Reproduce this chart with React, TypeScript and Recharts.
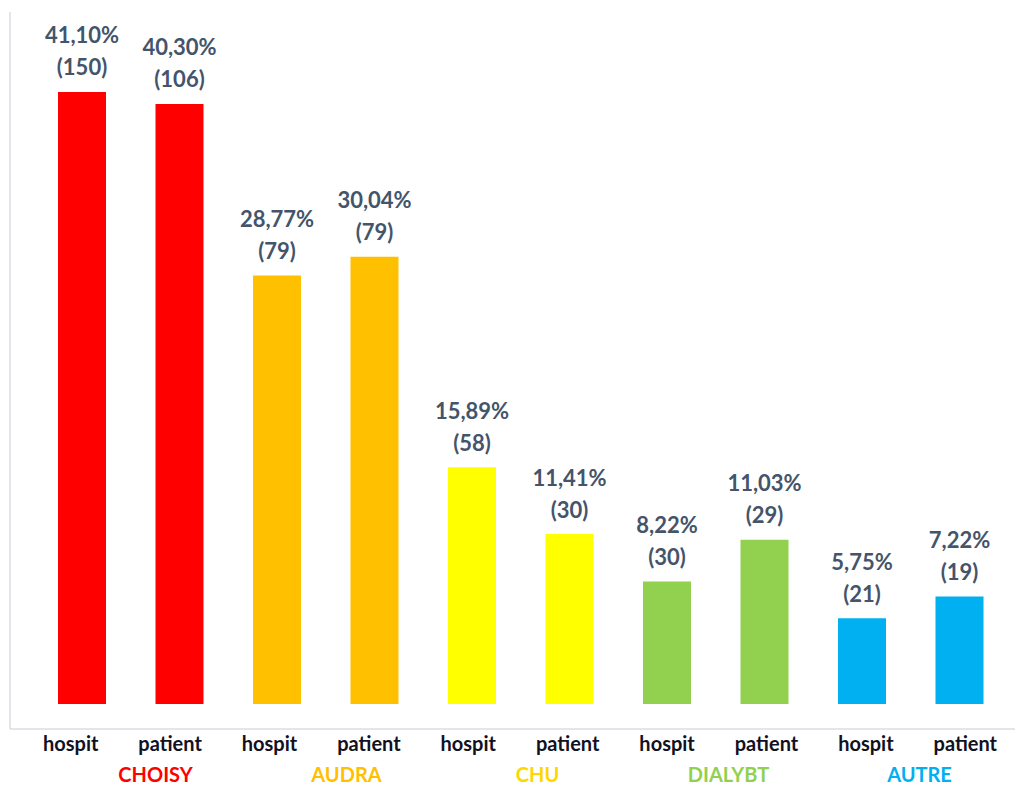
import React from "react"
import { BarChart, Bar, XAxis, YAxis, Cell, LabelList } from "recharts"

const categories = ["hospit", "patient", "hospit", "patient", "hospit", "patient", "hospit", "patient", "hospit", "patient"]
const groups = ["CHOISY", "AUDRA", "CHU", "DIALYBT", "AUTRE"]
const groupColors = ["#FF0000", "#FFC000", "#FFFF00", "#92D050", "#00B0F0"]
const groupLabelColors = ["#FF0000", "#FFC000", "#FFD700", "#92D050", "#00B0F0"]
const percents = [41.1, 40.3, 28.77, 30.04, 15.89, 11.41, 8.22, 11.03, 5.75, 7.22]
const counts = [150, 106, 79, 79, 58, 30, 30, 29, 21, 19]

const data = categories.map((name, i) => ({
  key: `${name}-${i}`,
  name,
  value: percents[i],
  count: counts[i],
  group: Math.floor(i / 2),
}))

const groupTicks = groups.map((_, g) => g + 0.5)

const FONT = "Lato, 'Open Sans', sans-serif"
const LABEL_COLOR = "#44546A"
const AXIS_COLOR = "#D9DDE3"

const fmtPct = (v: number) => v.toFixed(2).replace(".", ",") + "%"

function BarLabel(props: any) {
  const { x, y, width, index } = props
  const cx = x + width / 2
  return (
    <g fontFamily={FONT} fontWeight={700} fontSize={22} fill={LABEL_COLOR} textAnchor="middle">
      <text x={cx} y={y - 57} dominantBaseline="central">{fmtPct(percents[index])}</text>
      <text x={cx} y={y - 25} dominantBaseline="central">({counts[index]})</text>
    </g>
  )
}

function CatTick(props: any) {
  const { x, y, payload, index } = props
  const i = payload?.index ?? index
  return (
    <text x={x} y={y + 5} textAnchor="middle" dominantBaseline="central"
      fontFamily={FONT} fontWeight={700} fontSize={20} fill="#111122">
      {categories[i]}
    </text>
  )
}

function GroupTick(props: any) {
  const { x, y, payload } = props
  const g = Math.floor(payload.value)
  return (
    <text x={x} y={y + 6} textAnchor="middle" dominantBaseline="central"
      fontFamily={FONT} fontWeight={700} fontSize={20} fill={groupLabelColors[g]}>
      {groups[g]}
    </text>
  )
}

export default function App() {
  return (
    <div style={{ position: "absolute", left: 0, top: 0, background: "#fff" }}>
      <BarChart width={1015} height={785} data={data} margin={{ top: 12, right: 0, left: 9, bottom: 0 }}>
        <XAxis
          xAxisId="a_bars"
          dataKey="key"
          height={1}
          tick={false}
          tickLine={false}
          axisLine={{ stroke: AXIS_COLOR, strokeWidth: 1.5 }}
          padding={{ left: 23, right: 7 }}
        />
        <XAxis
          xAxisId="b_labels"
          dataKey="key"
          height={30}
          tickLine={false}
          axisLine={false}
          padding={{ left: 11, right: 0 }}
          interval={0}
          tick={<CatTick />}
        />
        <XAxis
          xAxisId="c_groups"
          dataKey="group"
          type="number"
          domain={[0, groups.length]}
          allowDataOverflow
          ticks={groupTicks}
          allowDecimals
          height={25}
          tickLine={false}
          axisLine={false}
          padding={{ left: 50, right: 0 }}
          interval={0}
          tick={<GroupTick />}
        />
        <YAxis
          width={1}
          domain={[-1.68, 46.47]}
          allowDataOverflow
          tick={false}
          tickLine={false}
          axisLine={{ stroke: AXIS_COLOR, strokeWidth: 1.5 }}
        />
        <Bar xAxisId="a_bars" dataKey="value" barSize={48} isAnimationActive={false}>
          {data.map((d) => (
            <Cell key={d.key} fill={groupColors[d.group]} />
          ))}
          <LabelList dataKey="value" content={<BarLabel />} />
        </Bar>
      </BarChart>
    </div>
  )
}
